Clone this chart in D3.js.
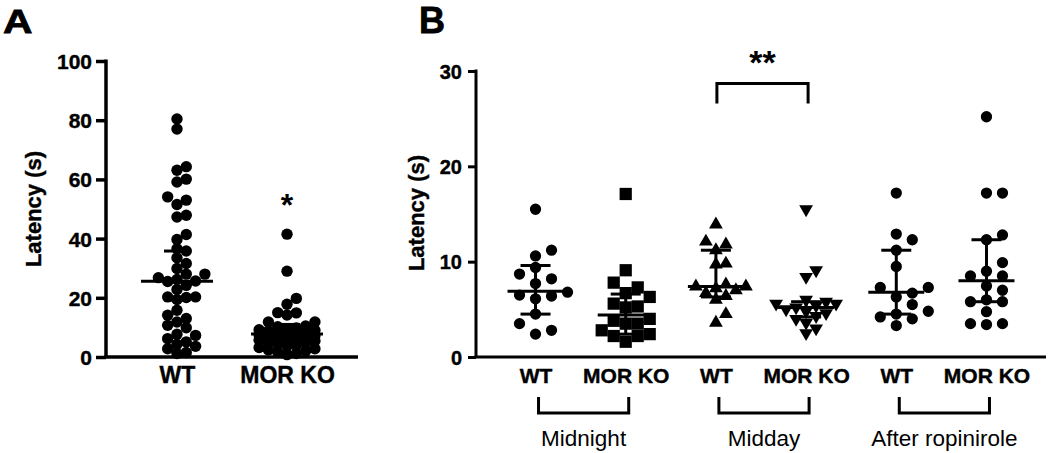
<!DOCTYPE html>
<html>
<head>
<meta charset="utf-8">
<script src="https://cdn.jsdelivr.net/npm/d3@7"></script>
<style>
  html, body { margin: 0; padding: 0; background: #fff; }
  svg { display: block; font-family: "Liberation Sans", Arial, sans-serif; }
</style>
</head>
<body>
<svg id="chart" width="1050" height="453"></svg>
<script>
// ---------------- Panel A data ----------------
const aCategories = ["WT", "MOR KO"];
const aTicks = [0, 20, 40, 60, 80, 100];
const aWT = [80.4, 77.0, 64.3, 63.1, 60.1, 59.1, 54.1, 53.0, 51.5, 47.9, 47.3, 41.4, 39.7,
  36.6, 35.8, 33.5, 31.6, 29.9, 28.0, 28.0, 26.8, 26.2, 25.7, 25.5, 24.2, 22.8, 20.3, 20.3,
  20.1, 19.4, 15.8, 14.1, 13.0, 11.8, 10.7, 9.9, 7.7, 7.3, 6.2, 5.1, 4.3, 3.6, 2.8, 1.5, 1.2];
const aKO = [41.5, 29.0, 19.8, 17.8, 15.0, 14.9, 14.2, 11.8, 11.8, 10.5, 10.2, 9.8, 9.5, 9.2,
  9.0, 8.8, 8.5, 8.2, 8.0, 7.8, 7.5, 7.2, 7.0, 6.8, 6.5, 6.2, 6.0, 5.7, 5.4, 5.0, 4.7, 4.4,
  4.0, 3.6, 3.2, 2.8, 2.4, 2.0, 1.6, 1.2, 0.8];
const aCenter = [25.6, 7.8];
const aLow = [19.2, 5.2];
const aHigh = [35.8, 11.0];
const aSig = ["", "*"];

// ---------------- Panel B data ----------------
const bCategories = ["WT", "MOR KO", "WT", "MOR KO", "WT", "MOR KO"];
const bGroups = ["Midnight", "Midday", "After ropinirole"];
const bTicks = [0, 10, 20, 30];
const midnightWT = [15.5, 11.2, 10.6, 9.4, 8.7, 8.2, 7.7, 6.8, 6.5, 6.4, 6.1, 4.5, 3.5, 2.8, 2.4];
const midnightKO = [17.1, 9.1, 7.8, 7.3, 6.7, 6.3, 5.6, 5.3, 5.2, 4.0, 3.8, 3.5, 3.5, 2.8, 2.4, 2.2, 2.2, 1.6];
const middayWT = [13.9, 12.1, 11.8, 11.2, 9.8, 9.7, 7.6, 7.4, 7.4, 7.2, 7.0, 6.7, 6.4, 6.0, 4.5, 3.6];
const middayKO = [15.5, 9.1, 8.4, 6.0, 5.8, 5.6, 5.6, 5.4, 5.2, 5.0, 4.8, 4.6, 4.3, 4.0, 3.6, 3.0, 2.5];
const afterWT = [17.2, 12.9, 12.3, 11.2, 9.5, 7.3, 7.3, 6.7, 6.3, 5.5, 4.8, 4.5, 4.2, 4.0, 3.3];
const afterKO = [25.2, 17.2, 17.2, 12.8, 12.3, 9.9, 9.0, 8.5, 8.5, 7.45, 7.0, 6.0, 5.8, 5.8, 4.75, 3.5, 3.5, 3.4];
const bSeries = [midnightWT, midnightKO, middayWT, middayKO, afterWT, afterKO];
const bSymbols = ["circle", "square", "triangle", "triangleDown", "circle", "circle"];
const bCenter = [6.9, 4.4, 7.4, 5.2, 6.8, 8.0];
const bLow = [4.5, 2.4, 6.3, 4.2, 4.5, 5.8];
const bHigh = [9.6, 6.6, 11.2, 5.8, 11.2, 12.3];
const bSigPair = [2, 3];
const bSigLabel = "**";
const bSigLevels = [28.7, 26.6];

// ---------------- helpers ----------------
const svg = d3.select("#chart");
const FONT = '"Liberation Sans", Arial, sans-serif';

function swarm(vals, y, step, minDist, maxK) {
  const pts = vals.map(v => ({ v, py: y(v) })).sort((a, b) => a.v - b.v);
  const placed = [];
  const cands = [0];
  for (let k = 1; k <= maxK; k++) { cands.push(k * step, -k * step); }
  for (const p of pts) {
    let chosen = null, alt = 0, bestScore = -Infinity;
    for (const dx of cands) {
      let md = Infinity;
      for (const q of placed) md = Math.min(md, Math.hypot(q.dx - dx, q.py - p.py));
      if (md >= minDist) { chosen = dx; break; }
      if (md > bestScore) { bestScore = md; alt = dx; }
    }
    p.dx = chosen !== null ? chosen : alt;
    placed.push(p);
  }
  return placed;
}

function symbolPath(kind) {
  if (kind === "square") return d3.symbol().type(d3.symbolSquare).size(150)();
  if (kind === "triangle") return d3.symbol().type(d3.symbolTriangle).size(82)();
  if (kind === "triangleDown") return d3.symbol().type(d3.symbolTriangle).size(82)();
  return d3.symbol().type(d3.symbolCircle).size(100)();
}

function boldText(sel) {
  return sel.attr("font-family", FONT).attr("font-weight", "bold").attr("fill", "#000")
    .attr("stroke", "#000").attr("stroke-width", 0.4);
}

// ---------------- Panel A ----------------
const yA = d3.scaleLinear().domain([0, 100]).range([357, 61]);
const xA = d3.scalePoint().domain(aCategories).range([106, 358]).padding(0.645);
const gA = svg.append("g");

const yAxisA = d3.axisLeft(yA).tickValues(aTicks).tickSize(10).tickPadding(4);
const gyA = gA.append("g").attr("transform", "translate(106,0)").call(yAxisA);
gyA.select(".domain").attr("stroke", "#000").attr("stroke-width", 3.5).attr("d", "M0,357V59.5");
gyA.selectAll(".tick line").attr("stroke", "#000").attr("stroke-width", 3.5);
boldText(gyA.selectAll(".tick text")).attr("font-size", 21).attr("dy", "0.36em");

const xAxisA = d3.axisBottom(xA).tickSize(0).tickPadding(10);
const gxA = gA.append("g").attr("transform", "translate(0,357)").call(xAxisA);
gxA.select(".domain").attr("stroke", "#000").attr("stroke-width", 3.5).attr("d", "M104.25,0H358");
boldText(gxA.selectAll(".tick text")).attr("font-size", 23).attr("dy", "0.71em");

boldText(gA.append("text").attr("transform", "translate(41,209) rotate(-90)")
  .attr("text-anchor", "middle")).attr("font-size", 22).text("Latency (s)");

[aWT, aKO].forEach((vals, i) => {
  const cx = xA(aCategories[i]);
  const pts = swarm(vals, yA, 9.3, 9.0, 3);
  gA.append("g").selectAll("circle").data(pts).join("circle")
    .attr("cx", d => cx + d.dx).attr("cy", d => d.py).attr("r", 5.7).attr("fill", "#000");
  const g = gA.append("g").attr("stroke", "#000").attr("stroke-width", 3);
  g.append("line").attr("x1", cx - 36).attr("x2", cx + 36).attr("y1", yA(aCenter[i])).attr("y2", yA(aCenter[i]));
  g.append("line").attr("x1", cx).attr("x2", cx).attr("y1", yA(aLow[i])).attr("y2", yA(aHigh[i]));
  g.append("line").attr("x1", cx - 13).attr("x2", cx + 13).attr("y1", yA(aLow[i])).attr("y2", yA(aLow[i]));
  g.append("line").attr("x1", cx - 13).attr("x2", cx + 13).attr("y1", yA(aHigh[i])).attr("y2", yA(aHigh[i]));
  if (aSig[i]) {
    gA.append("text").attr("x", cx).attr("y", 216).attr("text-anchor", "middle")
      .attr("font-family", FONT).attr("font-weight", "bold").attr("font-size", 32).text(aSig[i]);
  }
});

boldText(gA.append("text").attr("transform", "translate(3,33) scale(1.2,1)"))
  .attr("font-size", 34).attr("stroke-width", 0.8).text("A");

// ---------------- Panel B ----------------
const yB = d3.scaleLinear().domain([0, 30]).range([357, 71]);
const xB = d3.scalePoint().domain(d3.range(bCategories.length)).range([476, 1046]).padding(0.66);
const gB = svg.append("g");

const yAxisB = d3.axisLeft(yB).tickValues(bTicks).tickSize(8).tickPadding(6);
const gyB = gB.append("g").attr("transform", "translate(476,0)").call(yAxisB);
gyB.select(".domain").attr("stroke", "#000").attr("stroke-width", 3).attr("d", "M0,357V69.5");
gyB.selectAll(".tick line").attr("stroke", "#000").attr("stroke-width", 3);
boldText(gyB.selectAll(".tick text")).attr("font-size", 20).attr("dy", "0.36em");

const xAxisB = d3.axisBottom(xB).tickSize(0).tickPadding(11).tickFormat(i => bCategories[i]);
const gxB = gB.append("g").attr("transform", "translate(0,357)").call(xAxisB);
gxB.select(".domain").attr("stroke", "#000").attr("stroke-width", 3).attr("d", "M474.5,0H1046");
boldText(gxB.selectAll(".tick text")).attr("font-size", 21).attr("dy", "0.71em");

boldText(gB.append("text").attr("transform", "translate(424,213) rotate(-90)")
  .attr("text-anchor", "middle")).attr("font-size", 22).text("Latency (s)");

const stepFor = { circle: [16, 11], square: [12, 12], triangle: [10, 10], triangleDown: [10, 10] };
bSeries.forEach((vals, i) => {
  const cx = xB(i);
  const kind = bSymbols[i];
  const [st, md] = stepFor[kind];
  const pts = swarm(vals, yB, st, md, 3);
  const path = symbolPath(kind);
  const ge = gB.append("g").attr("stroke", "#000").attr("stroke-width", 3);
  ge.append("line").attr("x1", cx - 28).attr("x2", cx + 28).attr("y1", yB(bCenter[i])).attr("y2", yB(bCenter[i]));
  ge.append("line").attr("x1", cx).attr("x2", cx).attr("y1", yB(bLow[i])).attr("y2", yB(bHigh[i]));
  ge.append("line").attr("x1", cx - 15).attr("x2", cx + 15).attr("y1", yB(bLow[i])).attr("y2", yB(bLow[i]));
  ge.append("line").attr("x1", cx - 15).attr("x2", cx + 15).attr("y1", yB(bHigh[i])).attr("y2", yB(bHigh[i]));
  gB.append("g").selectAll("path").data(pts).join("path")
    .attr("d", path)
    .attr("transform", d => `translate(${cx + d.dx},${d.py})` + (kind === "triangleDown" ? " rotate(180)" : ""))
    .attr("fill", "#000");
  if (kind === "circle" || kind === "triangle") {
    gB.node().appendChild(ge.node());
  }
});

// group brackets
bGroups.forEach((name, gi) => {
  const x1 = xB(gi * 2) + 3, x2 = xB(gi * 2 + 1) + 3;
  gB.append("path").attr("d", `M${x1},397V413H${x2}V397`).attr("fill", "none")
    .attr("stroke", "#000").attr("stroke-width", 3);
  gB.append("text").attr("x", (x1 + x2) / 2).attr("y", 446).attr("text-anchor", "middle")
    .attr("font-family", FONT).attr("font-size", 22.5).attr("fill", "#000").text(name);
});

// significance bracket
{
  const x1 = xB(bSigPair[0]) + 1, x2 = xB(bSigPair[1]) + 2;
  const yt = yB(bSigLevels[0]), yb = yB(bSigLevels[1]);
  gB.append("path").attr("d", `M${x1},${yb}V${yt}H${x2}V${yb}`).attr("fill", "none")
    .attr("stroke", "#000").attr("stroke-width", 3);
  gB.append("text").attr("x", (x1 + x2) / 2).attr("y", 74).attr("text-anchor", "middle")
    .attr("font-family", FONT).attr("font-weight", "bold").attr("font-size", 34).text(bSigLabel);
}

boldText(gB.append("text").attr("x", 419).attr("y", 33))
  .attr("font-size", 36).attr("stroke-width", 0.8).text("B");
</script>
</body>
</html>
